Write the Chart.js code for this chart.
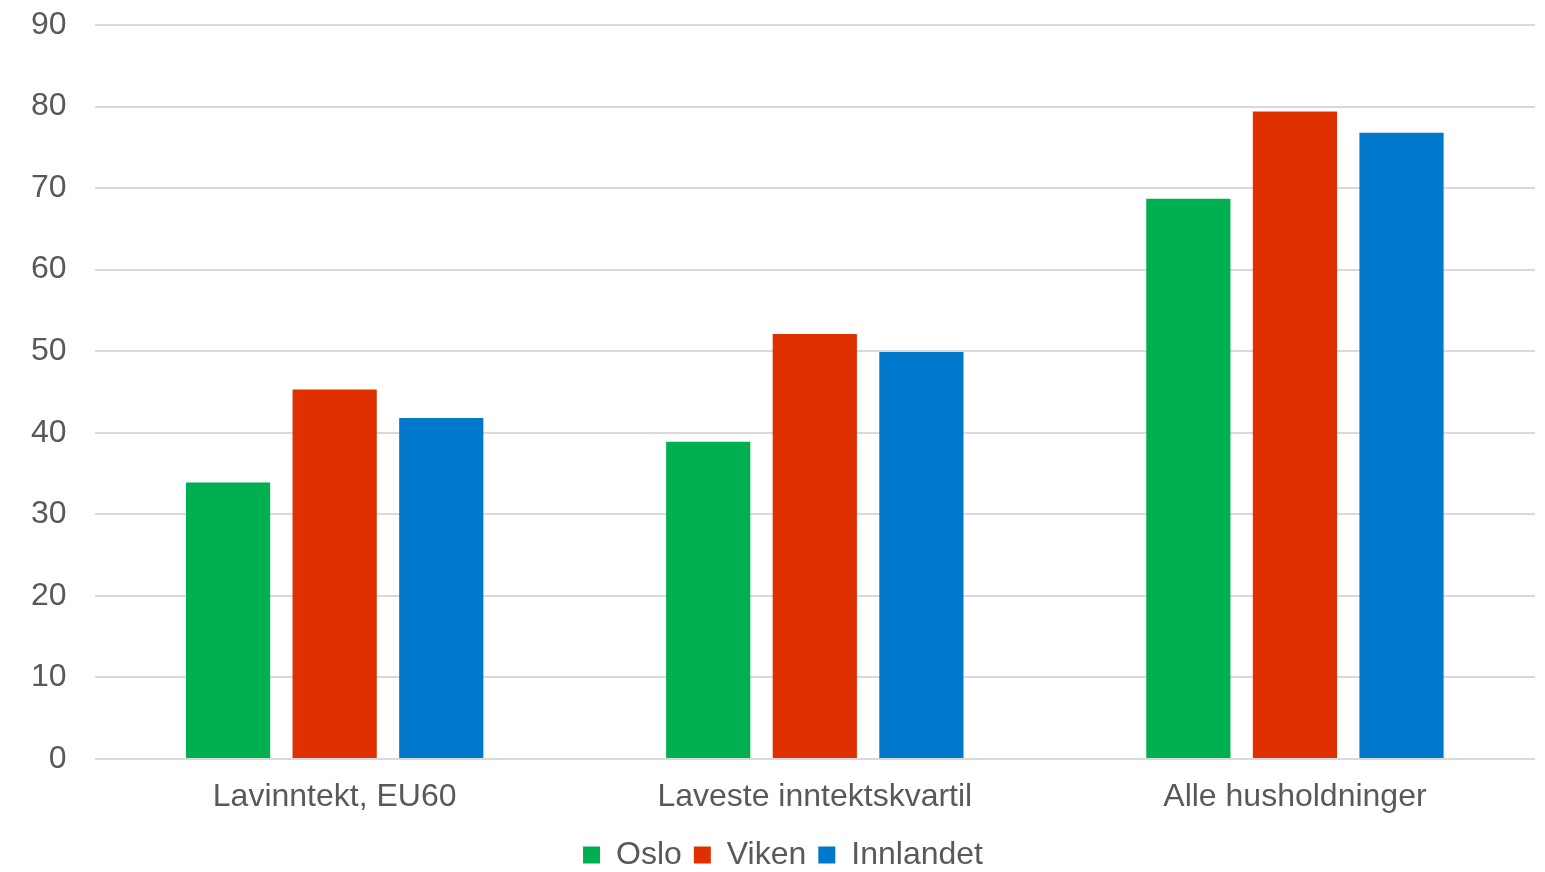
<!DOCTYPE html>
<html>
<head>
<meta charset="utf-8">
<script src="https://cdn.jsdelivr.net/npm/chart.js@4"></script>
<style>
    html, body { margin: 0; padding: 0; background: #ffffff; }
    #wrap { width: 1545px; height: 872px; }
</style>
</head>
<body>
<div id="wrap"><canvas id="bar-chart"></canvas></div>
<script>
// categories on the x axis
var categories = ['Lavinntekt, EU60', 'Laveste inntektskvartil', 'Alle husholdninger'];
// series values
var oslo = [33.9, 38.9, 68.7];
var viken = [45.3, 52.1, 79.4];
var innlandet = [41.8, 49.9, 76.8];
// y axis ticks
var y_min = 0;
var y_max = 90;
var y_step = 10;

var text_color = '#595959';
var grid_color = '#d9d9d9';

Chart.defaults.font.family = '"Liberation Sans", Arial, sans-serif';
Chart.defaults.font.size = 32;
Chart.defaults.color = text_color;

var ctx = document.getElementById('bar-chart').getContext('2d');
var myBarChart = new Chart(ctx, {
    type: 'bar',
    data: {
        labels: categories,
        datasets: [{
            label: 'Oslo',
            data: oslo,
            backgroundColor: '#00b050'
        }, {
            label: 'Viken',
            data: viken,
            backgroundColor: '#e03000'
        }, {
            label: 'Innlandet',
            data: innlandet,
            backgroundColor: '#0078cc'
        }]
    },
    options: {
        responsive: true,
        maintainAspectRatio: false,
        animation: false,
        devicePixelRatio: 1,
        categoryPercentage: 0.666,
        barPercentage: 0.79,
        layout: {
            padding: { left: 31, right: 10, top: 25, bottom: -9 }
        },
        plugins: {
            tooltip: { enabled: false },
            legend: {
                position: 'bottom',
                labels: {
                    boxWidth: 17,
                    boxHeight: 17,
                    padding: 12,
                    color: text_color
                }
            }
        },
        scales: {
            x: {
                grid: { display: false },
                border: { display: false },
                ticks: { padding: 10, color: text_color, font: { lineHeight: 1.25 } }
            },
            y: {
                min: y_min,
                max: y_max,
                // gap between labels and plot comes from an invisible tick mark
                ticks: { stepSize: y_step, padding: 0, color: text_color },
                grid: { color: grid_color, lineWidth: 2, tickLength: 28, tickColor: 'rgba(0,0,0,0)' },
                border: { display: false }
            }
        }
    }
});
</script>
</body>
</html>
